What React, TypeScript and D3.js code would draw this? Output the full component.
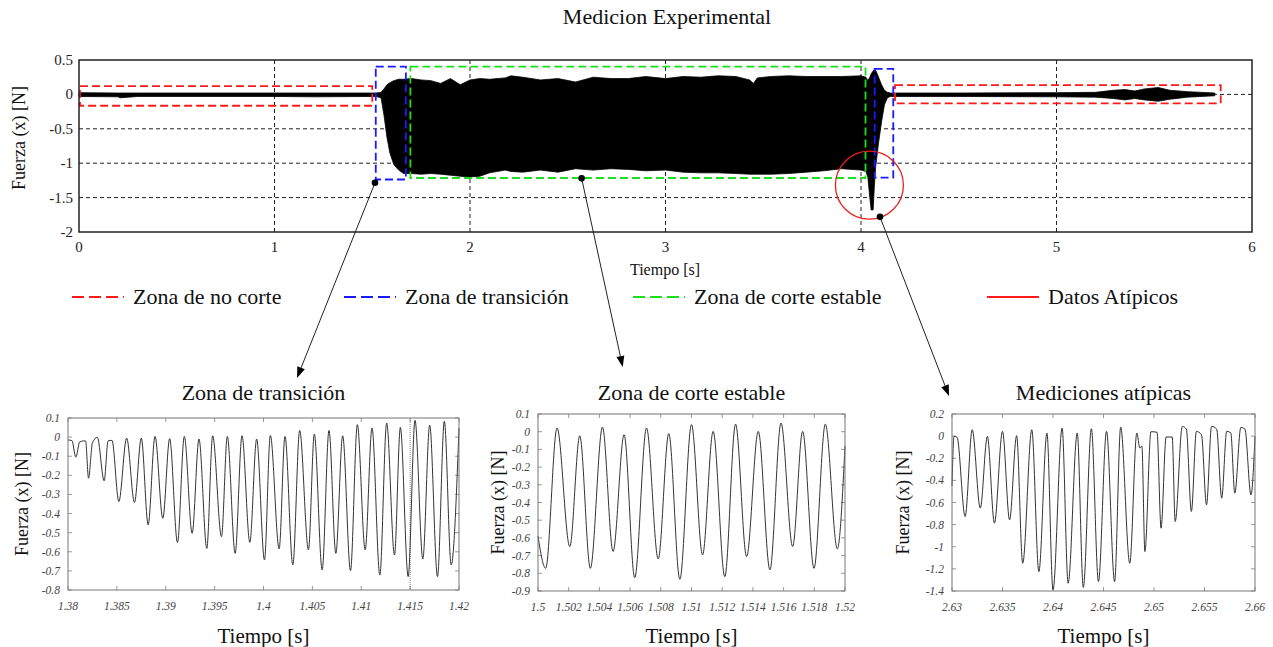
import React from "react";
import * as d3 from "d3";

// ---------- Main chart data (envelope of the measured force) ----------
const envT = [0.0, 0.2, 0.21, 0.3, 1.0, 1.2, 1.52, 1.545, 1.56, 1.575, 1.59, 1.61, 1.635, 1.66, 1.7, 1.75, 1.8, 1.85, 1.9, 1.95, 2.0, 2.05, 2.1, 2.18, 2.21, 2.27, 2.36, 2.45, 2.54, 2.63, 2.72, 2.81, 2.9, 3.0, 3.09, 3.18, 3.27, 3.36, 3.43, 3.45, 3.47, 3.54, 3.63, 3.72, 3.81, 3.9, 4.0, 4.025, 4.035, 4.045, 4.052, 4.062, 4.068, 4.075, 4.09, 4.105, 4.12, 4.135, 4.15, 4.5, 5.0, 5.2, 5.29, 5.35, 5.4, 5.45, 5.52, 5.58, 5.67, 5.81];
const envHi = [0.025, 0.02, 0.02, 0.02, 0.02, 0.02, 0.02, 0.03, 0.08, 0.14, 0.17, 0.2, 0.22, 0.22, 0.23, 0.21, 0.2, 0.16, 0.23, 0.14, 0.21, 0.23, 0.22, 0.24, 0.27, 0.25, 0.21, 0.23, 0.18, 0.25, 0.23, 0.23, 0.26, 0.23, 0.26, 0.25, 0.27, 0.26, 0.21, 0.16, 0.24, 0.26, 0.27, 0.26, 0.26, 0.26, 0.27, 0.25, 0.2, 0.25, 0.3, 0.34, 0.36, 0.35, 0.25, 0.14, 0.06, 0.03, 0.02, 0.02, 0.025, 0.03, 0.06, 0.07, 0.05, 0.08, 0.1, 0.06, 0.04, 0.02];
const envLo = [-0.03, -0.035, -0.05, -0.03, -0.03, -0.035, -0.03, -0.05, -0.3, -0.62, -0.85, -1.02, -1.1, -1.15, -1.15, -1.16, -1.15, -1.16, -1.175, -1.19, -1.2, -1.19, -1.14, -1.1, -1.12, -1.13, -1.1, -1.13, -1.08, -1.1, -1.08, -1.09, -1.11, -1.1, -1.13, -1.14, -1.14, -1.15, -1.16, -1.16, -1.16, -1.16, -1.15, -1.13, -1.11, -1.08, -1.1, -1.12, -1.2, -1.5, -1.68, -1.68, -1.35, -1.05, -0.7, -0.4, -0.15, -0.05, -0.03, -0.03, -0.035, -0.04, -0.06, -0.08, -0.06, -0.08, -0.1, -0.07, -0.04, -0.02];

const mainXTicks = [0, 1, 2, 3, 4, 5, 6];
const mainYTicks = [0.5, 0, -0.5, -1, -1.5, -2];
const mainXGrid = [1, 2, 3, 4, 5];
const mainYGrid = [0, -0.5, -1, -1.5];

// zone boxes: [t0, t1, vLow, vHigh]
const noCutBoxes = [[0.005, 1.5, -0.165, 0.12], [4.174, 5.84, -0.13, 0.136]];
const transBoxes = [[1.518, 1.672, -1.237, 0.405], [4.07, 4.165, -1.21, 0.37]];
const stableBoxes = [[1.695, 4.023, -1.215, 0.403]];
const outlierCircle = [4.043, -1.32];

// annotation dots (data coords) on main chart
const dotT = [1.514, 2.571, 4.097];
const dotV = [-1.285, -1.22, -1.78];

const legendLabels = ["Zona de no corte", "Zona de transición", "Zona de corte estable", "Datos Atípicos"];

// ---------- Sub plot data (extrema) ----------
const sub1T = [1.38, 1.3804, 1.3808, 1.3812, 1.3816, 1.3818, 1.3821, 1.3825, 1.383, 1.3837, 1.3841, 1.3845, 1.3852, 1.386, 1.3868, 1.3875, 1.3882, 1.3889, 1.3897, 1.3904, 1.3912, 1.3919, 1.3927, 1.3934, 1.3942, 1.3948, 1.3957, 1.3963, 1.3971, 1.3978, 1.3986, 1.3993, 1.4001, 1.4007, 1.4016, 1.4022, 1.403, 1.4037, 1.4046, 1.4052, 1.406, 1.4067, 1.4074, 1.4081, 1.4089, 1.4096, 1.4104, 1.4111, 1.4119, 1.4126, 1.4134, 1.414, 1.4148, 1.4155, 1.4163, 1.417, 1.4178, 1.4185, 1.4192, 1.42];
const sub1F = [-0.015, -0.018, -0.105, -0.025, -0.02, -0.02, -0.215, -0.03, -0.001, -0.229, -0.02, -0.017, -0.337, -0.005, -0.342, -0.005, -0.459, 0.004, -0.425, -0.008, -0.552, 0.004, -0.503, -0.01, -0.582, 0.007, -0.521, 0.004, -0.608, 0.007, -0.55, -0.01, -0.643, 0.009, -0.585, 0.004, -0.669, 0.035, -0.59, 0.016, -0.695, 0.035, -0.608, 0.007, -0.699, 0.065, -0.59, 0.048, -0.722, 0.074, -0.617, 0.051, -0.73, 0.088, -0.638, 0.063, -0.73, 0.083, -0.669, 0.048];
const sub1XTicks = [1.38, 1.385, 1.39, 1.395, 1.4, 1.405, 1.41, 1.415, 1.42];
const sub1YTicks = [0.1, 0, -0.1, -0.2, -0.3, -0.4, -0.5, -0.6, -0.7, -0.8];

const sub2T = [1.5, 1.5005, 1.50124, 1.50207, 1.50272, 1.50341, 1.5042, 1.50489, 1.50561, 1.5063, 1.50707, 1.50783, 1.50852, 1.50924, 1.51, 1.51072, 1.51141, 1.51217, 1.51287, 1.51359, 1.51435, 1.51511, 1.51583, 1.51659, 1.51724, 1.51798, 1.51872, 1.5195, 1.52];
const sub2F = [-0.59, -0.772, 0.021, -0.649, -0.023, -0.772, 0.026, -0.677, -0.017, -0.825, 0.021, -0.719, -0.011, -0.834, 0.04, -0.696, 0.002, -0.819, 0.043, -0.706, 0.002, -0.781, 0.049, -0.649, 0.002, -0.772, 0.043, -0.662, -0.08];
const sub2XTicks = [1.5, 1.502, 1.504, 1.506, 1.508, 1.51, 1.512, 1.514, 1.516, 1.518, 1.52];
const sub2YTicks = [0.1, 0, -0.1, -0.2, -0.3, -0.4, -0.5, -0.6, -0.7, -0.8, -0.9];

const sub3T = [2.63, 2.6302, 2.6305, 2.6313, 2.632, 2.6328, 2.6335, 2.6342, 2.635, 2.6357, 2.6364, 2.637, 2.6379, 2.6386, 2.6394, 2.64, 2.6409, 2.6415, 2.6424, 2.643, 2.6438, 2.6445, 2.6453, 2.6461, 2.6467, 2.6476, 2.6483, 2.6486, 2.6488, 2.6491, 2.6497, 2.6503, 2.6507, 2.6512, 2.6518, 2.6521, 2.6528, 2.6532, 2.6537, 2.6542, 2.6547, 2.6552, 2.6557, 2.6562, 2.6567, 2.6572, 2.6576, 2.658, 2.6586, 2.659, 2.6596, 2.66];
const sub3F = [-0.45, -0.002, -0.01, -0.727, 0.058, -0.651, -0.002, -0.787, 0.043, -0.757, 0.004, -1.149, 0.058, -1.225, 0.028, -1.39, 0.073, -1.33, 0.028, -1.367, 0.067, -1.315, 0.043, -1.315, 0.082, -1.149, 0.028, -0.108, -0.09, -1.044, 0.04, 0.035, -0.832, -0.008, -0.008, -0.772, 0.088, 0.064, -0.681, 0.043, 0.013, -0.621, 0.088, 0.064, -0.561, 0.043, 0.03, -0.516, 0.079, 0.064, -0.531, -0.002];
const sub3XTicks = [2.63, 2.635, 2.64, 2.645, 2.65, 2.655, 2.66];
const sub3YTicks = [0.2, 0, -0.2, -0.4, -0.6, -0.8, -1, -1.2, -1.4];

const FONT = "'Liberation Serif', 'Times New Roman', serif";
const RED = "#ff1a1a";
const BLUE = "#1a1aff";
const GREEN = "#1adf1a";

type SubProps = {
  box: [number, number, number, number];
  xDom: [number, number];
  yDom: [number, number];
  xTicks: number[];
  yTicks: number[];
  T: number[];
  F: number[];
  title: string;
  labelX: number;
  marker?: number;
};

function SubPlot({ box, xDom, yDom, xTicks, yTicks, T, F, title, labelX, marker }: SubProps) {
  const [x0, x1, y0, y1] = box;
  const sx = d3.scaleLinear().domain(xDom).range([x0, x1]);
  const sy = d3.scaleLinear().domain(yDom).range([y1, y0]);
  const line = d3
    .line<number>()
    .x((_, i) => sx(T[i]))
    .y((_, i) => sy(F[i]))
    .curve(d3.curveMonotoneX);
  const cx = (x0 + x1) / 2;
  const cy = (y0 + y1) / 2;
  return (
    <g>
      <text x={cx} y={400} textAnchor="middle" fontSize={22} fontFamily={FONT} fill="#111">
        {title}
      </text>
      {xTicks.map((t) => (
        <g key={"xt" + t}>
          <line x1={sx(t)} x2={sx(t)} y1={y1} y2={y1 - 4} stroke="#999" />
          <line x1={sx(t)} x2={sx(t)} y1={y0} y2={y0 + 4} stroke="#999" />
          <text x={sx(t)} y={y1 + 20} textAnchor="middle" fontSize={11.5} fontStyle="italic" fontFamily={FONT} fill="#444">
            {String(t)}
          </text>
        </g>
      ))}
      {yTicks.map((v) => (
        <g key={"yt" + v}>
          <line x1={x0} x2={x0 + 4} y1={sy(v)} y2={sy(v)} stroke="#999" />
          <line x1={x1} x2={x1 - 4} y1={sy(v)} y2={sy(v)} stroke="#999" />
          <text x={x0 - 8} y={sy(v) + 4} textAnchor="end" fontSize={11.5} fontStyle="italic" fontFamily={FONT} fill="#444">
            {String(v)}
          </text>
        </g>
      ))}
      {marker !== undefined && (
        <line x1={sx(marker)} x2={sx(marker)} y1={y0} y2={y1} stroke="#666" strokeWidth={0.8} strokeDasharray="1,1" />
      )}
      <path d={line(T) || ""} fill="none" stroke="#333" strokeWidth={1} />
      <rect x={x0} y={y0} width={x1 - x0} height={y1 - y0} fill="none" stroke="#777" strokeWidth={1} />
      <text x={cx} y={643} textAnchor="middle" fontSize={21} fontFamily={FONT} fill="#111">
        Tiempo [s]
      </text>
      <text
        transform={`translate(${labelX},${cy}) rotate(-90)`}
        textAnchor="middle"
        fontSize={18}
        fontFamily={FONT}
        fill="#111"
      >
        Fuerza (x) [N]
      </text>
    </g>
  );
}

export default function App() {
  const mx = d3.scaleLinear().domain([0, 6]).range([79, 1252]);
  const my = d3.scaleLinear().domain([-2, 0.5]).range([232, 60]);
  const area = d3
    .area<number>()
    .x((_, i) => mx(envT[i]))
    .y0((_, i) => my(envLo[i]))
    .y1((_, i) => my(envHi[i]));

  const boxRect = (b: number[], color: string, key: string) => (
    <rect
      key={key}
      x={mx(b[0])}
      y={my(b[3])}
      width={mx(b[1]) - mx(b[0])}
      height={my(b[2]) - my(b[3])}
      fill="none"
      stroke={color}
      strokeWidth={1.8}
      strokeDasharray="8,4"
    />
  );

  const arrowTips: [number, number][] = [
    [297, 378],
    [622.7, 367],
    [949, 396],
  ];

  const legendItems = [
    { x: 72, color: RED, dash: "12,5" },
    { x: 344, color: BLUE, dash: "12,5" },
    { x: 633, color: GREEN, dash: "12,5" },
    { x: 987, color: RED, dash: "" },
  ];

  return (
    <svg width={1273} height={647} style={{ position: "absolute", left: 0, top: 0, background: "#fff" }}>
      <rect x={0} y={0} width={1273} height={647} fill="#fff" />
      <text x={667} y={24} textAnchor="middle" fontSize={22} fontFamily={FONT} fill="#111">
        Medicion Experimental
      </text>
      {/* grid */}
      {mainXGrid.map((t) => (
        <line key={"gx" + t} x1={mx(t)} x2={mx(t)} y1={my(0.5)} y2={my(-2)} stroke="#222" strokeWidth={1} strokeDasharray="4,3" />
      ))}
      {mainYGrid.map((v) => (
        <line key={"gy" + v} x1={mx(0)} x2={mx(6)} y1={my(v)} y2={my(v)} stroke="#222" strokeWidth={1} strokeDasharray="4,3" />
      ))}
      {/* signal */}
      <path d={area(envT) || ""} fill="#000" stroke="#000" strokeWidth={0.8} />
      {/* zone boxes */}
      {noCutBoxes.map((b, i) => boxRect(b, RED, "nc" + i))}
      {transBoxes.map((b, i) => boxRect(b, BLUE, "tr" + i))}
      {stableBoxes.map((b, i) => boxRect(b, GREEN, "st" + i))}
      <circle cx={mx(outlierCircle[0])} cy={my(outlierCircle[1])} r={34} fill="none" stroke="#e8201e" strokeWidth={1.3} />
      {/* axes frame */}
      <rect x={mx(0)} y={my(0.5)} width={mx(6) - mx(0)} height={my(-2) - my(0.5)} fill="none" stroke="#222" strokeWidth={1.5} />
      {mainXTicks.map((t) => (
        <text key={"mxt" + t} x={mx(t)} y={252} textAnchor="middle" fontSize={15} fontFamily={FONT} fill="#222">
          {String(t)}
        </text>
      ))}
      {mainYTicks.map((v) => (
        <text key={"myt" + v} x={mx(0) - 6} y={my(v) + 5} textAnchor="end" fontSize={15} fontFamily={FONT} fill="#222">
          {String(v)}
        </text>
      ))}
      <text x={665} y={275} textAnchor="middle" fontSize={16} fontFamily={FONT} fill="#111">
        Tiempo [s]
      </text>
      <text transform={`translate(25,${(my(0.5) + my(-2)) / 2 - 8}) rotate(-90)`} textAnchor="middle" fontSize={18} fontFamily={FONT} fill="#111">
        Fuerza (x) [N]
      </text>
      {/* annotation arrows */}
      {dotT.map((t, i) => {
        const sx = mx(t);
        const sy = my(dotV[i]);
        const [ex, ey] = arrowTips[i];
        const ang = Math.atan2(ey - sy, ex - sx);
        const L = 11;
        const Wd = 4;
        const bx = ex - L * Math.cos(ang);
        const by = ey - L * Math.sin(ang);
        const px = -Math.sin(ang) * Wd;
        const py = Math.cos(ang) * Wd;
        return (
          <g key={"ar" + i}>
            <line x1={sx} y1={sy} x2={bx} y2={by} stroke="#222" strokeWidth={1} />
            <polygon points={`${ex},${ey} ${bx + px},${by + py} ${bx - px},${by - py}`} fill="#000" />
            <circle cx={sx} cy={sy} r={3.3} fill="#000" />
          </g>
        );
      })}
      {/* legend */}
      {legendItems.map((it, i) => (
        <g key={"lg" + i}>
          <line x1={it.x} x2={it.x + 52} y1={297} y2={297} stroke={it.color} strokeWidth={2} strokeDasharray={it.dash || undefined} />
          <text x={it.x + 61} y={304} fontSize={22} fontFamily={FONT} fill="#111">
            {legendLabels[i]}
          </text>
        </g>
      ))}
      {/* sub plots */}
      <SubPlot box={[68, 459, 418, 590]} xDom={[1.38, 1.42]} yDom={[-0.8, 0.1]} xTicks={sub1XTicks} yTicks={sub1YTicks} T={sub1T} F={sub1F} title="Zona de transición" labelX={28} marker={1.415} />
      <SubPlot box={[538, 845, 414, 591]} xDom={[1.5, 1.52]} yDom={[-0.9, 0.1]} xTicks={sub2XTicks} yTicks={sub2YTicks} T={sub2T} F={sub2F} title="Zona de corte estable" labelX={504} />
      <SubPlot box={[952, 1255, 414, 591]} xDom={[2.63, 2.66]} yDom={[-1.4, 0.2]} xTicks={sub3XTicks} yTicks={sub3YTicks} T={sub3T} F={sub3F} title="Mediciones atípicas" labelX={909} />
    </svg>
  );
}
